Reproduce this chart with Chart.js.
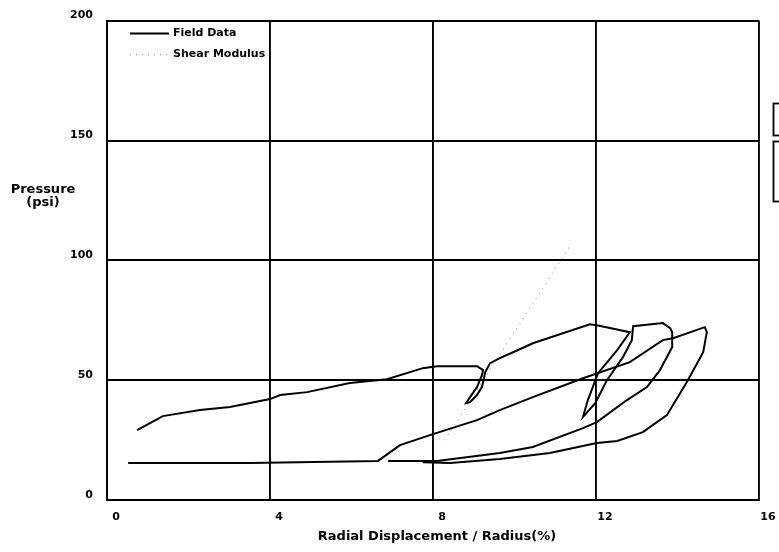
<!DOCTYPE html>
<html>
<head>
<meta charset="utf-8">
<title>Pressure vs Radial Displacement</title>
<script src="https://cdn.jsdelivr.net/npm/chart.js@4.4.0/dist/chart.umd.min.js"></script>
<style>
  html, body { margin: 0; padding: 0; background: #fff; }
</style>
</head>
<body>
<canvas id="chart" width="779" height="552"></canvas>
<script>
// Field data, first test curve (load, two unload/reload loops, unload)
const curve1X = [0.74, 1.37, 2.28, 3.02, 4.0, 4.25, 4.91, 5.96, 6.87, 7.75, 8.1, 9.08, 9.23,
  9.2, 9.08, 8.91, 8.81, 8.91, 9.08, 9.2, 9.25, 9.28, 9.4, 9.64, 10.13, 10.45, 11.85, 12.02, 12.83,
  12.52, 12.05, 11.8, 11.68, 11.98, 12.27, 12.66, 12.88, 12.91, 13.64, 13.82, 13.87, 13.87,
  13.57, 13.25, 12.76, 12.02, 11.68, 10.45, 9.64, 8.1, 6.9];
const curve1Y = [29.2, 35.0, 37.5, 38.8, 42.1, 43.8, 45.0, 48.8, 50.4, 55.0, 55.8, 55.8, 54.2,
  52.1, 47.1, 42.9, 40.4, 40.8, 43.8, 47.1, 50.8, 53.3, 57.1, 59.2, 62.9, 65.4, 73.3, 72.9, 70.0,
  62.5, 52.9, 41.7, 34.6, 40.4, 50.0, 59.6, 66.7, 72.5, 73.8, 71.7, 70.0, 63.8,
  54.2, 47.1, 41.7, 32.5, 30.0, 22.1, 19.6, 16.3, 16.3];

// Field data, second curve (flat start, reload, unload)
const curve2X = [0.52, 3.5, 6.65, 7.19, 8.0, 9.08, 9.64, 10.45, 11.68, 12.83, 13.64, 13.89, 14.67,
  14.72, 14.63, 14.23, 13.74, 13.15, 12.52, 12.02, 10.87, 9.64, 8.42, 7.75];
const curve2Y = [15.4, 15.4, 16.3, 22.9, 27.5, 33.3, 37.5, 42.9, 50.8, 57.5, 66.7, 67.5, 72.1,
  70.0, 61.7, 49.2, 35.4, 28.3, 24.6, 23.8, 19.6, 17.1, 15.4, 15.8];

// Shear modulus line
const shearX = [8.29, 11.4];
const shearY = [25.0, 107.0];

// Axis ticks
const xTicks = [0, 4, 8, 12, 16];
const yTicks = [0, 50, 100, 150, 200];

const FONT = 'DejaVu Sans';

function toPoints(xs, ys) {
  return xs.map(function (x, i) {
    return { x: x, y: ys[i] };
  });
}

// Draws the axis titles, the legend inside the plot and the cut off boxes at the right edge
const decorPlugin = {
  id: 'decor',
  afterDraw: function (chart) {
    const ctx = chart.ctx;
    const area = chart.chartArea;
    ctx.save();
    ctx.fillStyle = '#000';

    // y title, horizontal, two lines
    ctx.font = 'bold 13px "' + FONT + '"';
    ctx.textAlign = 'center';
    ctx.textBaseline = 'middle';
    ctx.fillText('Pressure', 43, 190);
    ctx.fillText('(psi)', 43, 203);

    // x title
    ctx.fillText('Radial Displacement / Radius(%)', 437, 537);

    // legend
    ctx.font = 'bold 11px "' + FONT + '"';
    ctx.textAlign = 'left';
    let ly = area.top + 13;
    chart.data.datasets.forEach(function (ds) {
      if (ds.hideInLegend) return;
      ctx.save();
      ctx.strokeStyle = ds.borderColor;
      ctx.lineWidth = ds.borderWidth;
      ctx.setLineDash(ds.borderDash || []);
      ctx.beginPath();
      ctx.moveTo(area.left + 23, ly);
      ctx.lineTo(area.left + 62, ly);
      ctx.stroke();
      ctx.restore();
      ctx.fillText(ds.label, area.left + 66, ly);
      ly += 21;
    });

    // partial boxes cut by the right edge
    ctx.strokeStyle = '#000';
    ctx.lineWidth = 1.8;
    ctx.strokeRect(773.5, 103.5, 30, 32);
    ctx.strokeRect(773.5, 141.5, 30, 60);
    ctx.restore();
  },
};

const ctx = document.getElementById('chart').getContext('2d');
const chart = new Chart(ctx, {
  type: 'scatter',
  data: {
    datasets: [
      {
        label: 'Field Data',
        data: toPoints(curve1X, curve1Y),
        showLine: true,
        borderColor: '#000',
        borderWidth: 2,
        pointRadius: 0,
        tension: 0,
      },
      {
        label: 'Field Data',
        hideInLegend: true,
        data: toPoints(curve2X, curve2Y),
        showLine: true,
        borderColor: '#000',
        borderWidth: 2,
        pointRadius: 0,
        tension: 0,
      },
      {
        label: 'Shear Modulus',
        data: toPoints(shearX, shearY),
        showLine: true,
        borderColor: '#a8a8a8',
        borderWidth: 1.2,
        borderDash: [1, 5],
        pointRadius: 0,
      },
    ],
  },
  options: {
    responsive: false,
    animation: false,
    layout: {
      padding: { top: 20, right: 20, left: 0, bottom: 0 },
    },
    plugins: {
      legend: { display: false },
      tooltip: { enabled: false },
    },
    scales: {
      x: {
        type: 'linear',
        min: 0,
        max: 16,
        afterBuildTicks: function (scale) {
          scale.ticks = xTicks.map(function (v) { return { value: v }; });
        },
        afterFit: function (scale) {
          scale.height = 52;
        },
        ticks: {
          color: '#000',
          font: { family: FONT, size: 11, weight: 'bold' },
          padding: 11,
          labelOffset: 9,
          maxRotation: 0,
        },
        grid: { color: '#000', lineWidth: 1.9, drawTicks: false },
        border: { color: '#000', width: 2 },
      },
      y: {
        min: 0,
        max: 200,
        afterBuildTicks: function (scale) {
          scale.ticks = yTicks.map(function (v) { return { value: v }; });
        },
        afterFit: function (scale) {
          scale.width = 107;
        },
        ticks: {
          color: '#000',
          font: { family: FONT, size: 11, weight: 'bold' },
          padding: 14,
          labelOffset: -5,
        },
        grid: { color: '#000', lineWidth: 1.9, drawTicks: false },
        border: { color: '#000', width: 2 },
      },
    },
  },
  plugins: [decorPlugin],
});
</script>
</body>
</html>
